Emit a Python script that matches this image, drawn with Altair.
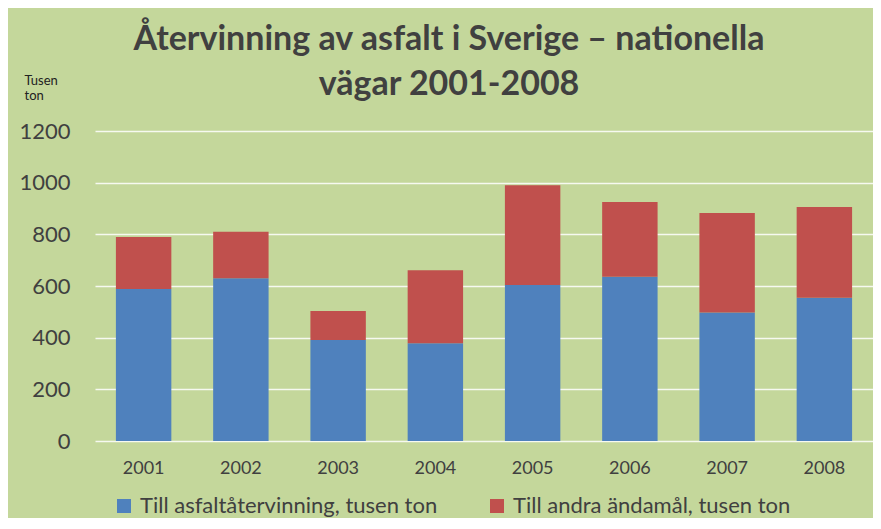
import altair as alt
import pandas as pd

years = ["2001", "2002", "2003", "2004", "2005", "2006", "2007", "2008"]
asfalt = [588, 630, 391, 378, 604, 636, 497, 555]
andra = [202, 180, 112, 283, 386, 289, 386, 351]
series_names = ["Till asfaltåtervinning, tusen ton", "Till andra ändamål, tusen ton"]
series_colors = ["#4F81BD", "#C0504D"]
y_ticks = [0, 200, 400, 600, 800, 1000, 1200]
title_lines = ["Återvinning av asfalt i Sverige – nationella", "vägar 2001-2008"]
y_title = ["Tusen", "ton"]

rows = []
for i, yr in enumerate(years):
    rows.append({"year": yr, "series": series_names[0], "value": asfalt[i], "ord": 0})
    rows.append({"year": yr, "series": series_names[1], "value": andra[i], "ord": 1})
df = pd.DataFrame(rows)

FONT = "Lato"
TXT = "#404040"

chart = alt.Chart(df).mark_bar().encode(
    x=alt.X("year:N", sort=years,
            scale=alt.Scale(paddingInner=0.43, paddingOuter=0.215),
            axis=alt.Axis(title=None, labelAngle=0, labelFontSize=18, labelFont=FONT,
                          labelColor=TXT, labelPadding=18, ticks=False, domain=False,
                          grid=False)),
    y=alt.Y("value:Q", stack="zero",
            scale=alt.Scale(domain=[0, 1200], nice=False),
            axis=alt.Axis(values=y_ticks, format="d", title=y_title, titleAngle=0,
                          titleAlign="left",
                          titleBaseline="alphabetic", titleX=-71, titleY=-47,
                          titleFont=FONT, titleFontSize=13, titleFontWeight="normal",
                          titleColor="#222222", titleLineHeight=15.5,
                          labelFontSize=22, labelFont=FONT, labelColor=TXT,
                          labelPadding=25, ticks=False, domain=False,
                          grid=True, gridColor="#FFFFFF", gridWidth=1.5, gridOpacity=0.85)),
    color=alt.Color("series:N", sort=series_names,
                    scale=alt.Scale(domain=series_names, range=series_colors),
                    legend=alt.Legend(title=None, orient="none", legendX=18, legendY=364,
                                      direction="horizontal", symbolType="square",
                                      symbolSize=196, symbolStrokeWidth=0,
                                      labelFont=FONT, labelFontSize=22, labelColor=TXT,
                                      labelOffset=5, columnPadding=48, labelLimit=0)),
    order=alt.Order("ord:Q", sort="ascending"),
).properties(
    width=778,
    height=310,
    padding={"left": 87, "top": 123, "right": 0, "bottom": 77},
    autosize=alt.AutoSizeParams(type="none"),
    title=alt.TitleParams(text=title_lines, font=FONT, fontSize=34, fontWeight="bold",
                          color=TXT, lineHeight=45, anchor="middle", dx=-35, dy=74,
                          baseline="alphabetic", offset=19),
).configure(
    background="#C4D79B",
).configure_view(
    stroke=None,
)

chart.save("out.html", embed_options={"renderer": "svg", "actions": False})
